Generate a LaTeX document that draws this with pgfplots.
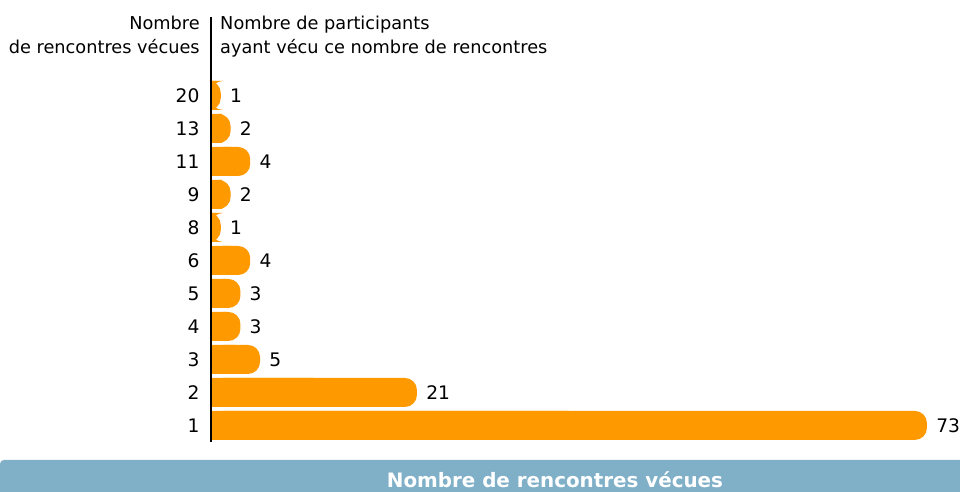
\documentclass[border=0pt]{standalone}
\usepackage{fontspec}
\setmainfont{DejaVu Sans}
\usepackage{pgfplots}
\usepackage{pgfplotstable}
\pgfplotsset{compat=1.18}
\definecolor{barorange}{HTML}{FF9900}
\definecolor{bandblue}{HTML}{80B0C7}

% pos = row on the chart, lab = number of encounters, n = participants
\pgfplotstableread{
pos lab n
0 1 73
1 2 21
2 3 5
3 4 3
4 5 3
5 6 4
6 8 1
7 9 2
8 11 4
9 13 2
10 20 1
}\rencontres

\begin{document}
\begin{tikzpicture}
  % pixel grid of the reference: (X,Y) from top left, axis corner at (211,442)
  \begin{scope}[x=0.75pt, y=-0.75pt, shift={(-158.25pt,331.5pt)}]
    \useasboundingbox (0,0) rectangle (960,492);
    \fill[bandblue] (960,492) -- (0,492) [rounded corners=3pt] -- (0,460)
      [sharp corners] -- (960,460) -- cycle;
    \node[anchor=base, inner sep=0pt, text=white,
      font=\bfseries\fontsize{14.9}{18}\selectfont] at (555,487.3)
      {Nombre de rencontres vécues};
    \begin{scope}[every node/.style={inner sep=0pt, font=\fontsize{13.3}{16}\selectfont}]
      \node[anchor=base east] at (200,30) {Nombre};
      \node[anchor=base east] at (200,54) {de rencontres vécues};
      \node[anchor=base west] at (220,30) {Nombre de participants};
      \node[anchor=base west] at (220,54) {ayant vécu ce nombre de rencontres};
    \end{scope}
  \end{scope}

  \begin{axis}[
      at={(0,0)}, anchor=south west,
      scale only axis,
      width=537pt, height=318.75pt,
      xmin=0, xmax=73,
      ymin=-0.5, ymax=12.379,
      axis x line=none,
      axis y line*=left,
      y axis line style={line width=1.3pt, black},
      ytick={0,...,10},
      yticklabels from table={\rencontres}{lab},
      major tick length=0pt,
      ytick style={draw=none},
      yticklabel style={inner sep=0pt, xshift=-8.5pt,
        font=\fontsize{14}{16}\selectfont},
      /pgf/number format/assume math mode=true,
      clip=false,
      axis on top,
    ]
    \addplot[xbar, bar shift=0pt, bar width=21.75pt, fill=barorange,
      draw=none, rounded corners=9pt,
      nodes near coords,
      nodes near coords align={horizontal},
      every node near coord/.style={anchor=west, inner sep=0pt, xshift=6.8pt,
        text=black, font=\fontsize{14}{16}\selectfont}]
      table[x=n, y=pos] {\rencontres};
    % square off the left ends of the bars
    \addplot[xbar, bar shift=0pt, bar width=21.75pt, fill=barorange, draw=none]
      table[x expr=\thisrow{n}/2, y=pos] {\rencontres};
  \end{axis}
\end{tikzpicture}
\end{document}
